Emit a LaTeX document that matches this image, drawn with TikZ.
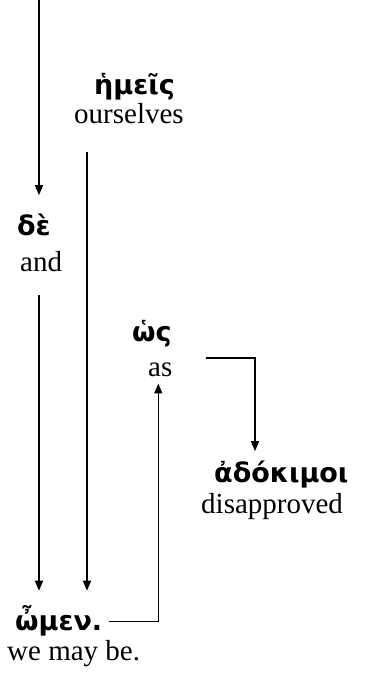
\documentclass[tikz,border=0pt]{standalone}
\usepackage{fontspec}
\setmainfont{Liberation Serif}
\newfontfamily\gkfont{DejaVu Sans}
\usetikzlibrary{arrows.meta,calc}
\begin{document}
\begin{tikzpicture}[x=1pt,y=-1pt,
  gk/.style={font=\gkfont\bfseries\fontsize{27}{31}\selectfont, inner sep=0pt, anchor=base west},
  en/.style={font=\fontsize{29}{34}\selectfont, inner sep=0pt, anchor=base west},
  link/.style={line width=1.5pt, -{Triangle[length=10pt,width=8pt]}},
  bare/.style={line width=1.5pt}]
\useasboundingbox (0,0) rectangle (367,677);
\node[gk] (hemeis) at (94,94) {ἡμεῖς};
\node[en] (ourselves) at (74,123) {ourselves};
\node[gk] (de) at (17,235) {δὲ};
\node[en] (and) at (20,271) {and};
\node[gk] (hos) at (132,341) {ὡς};
\node[en] (as) at (148,376) {as};
\node[gk] (adokimoi) at (214,482) {ἀδόκιμοι};
\node[en] (disapproved) at (201,513) {disapproved};
\node[gk] (omen) at (15,630) {ὦμεν.};
\node[en] (wemay) at (7,660) {we may be.};
\coordinate (top) at (39,0);
\draw[link] (top) -- ($(top |- de.north)+(0,-18)$);
\coordinate (s2) at ($(ourselves.south west)+(13,29)$);
\draw[link] (s2) -- ($(s2 |- omen.north)+(0,-14)$);
\coordinate (s3) at ($(and.south west)+(19,24)$);
\draw[link] (s3) -- ($(s3 |- omen.north)+(0,-14)$);
\draw[link] ($(omen.east)+(7,1)$) -| ($(as.south)+(-2,7)$);
\draw[link] ($(as.north east)+(33,-4)$) -| ($(adokimoi.north west)+(41,-9)$);
\end{tikzpicture}
\end{document}
